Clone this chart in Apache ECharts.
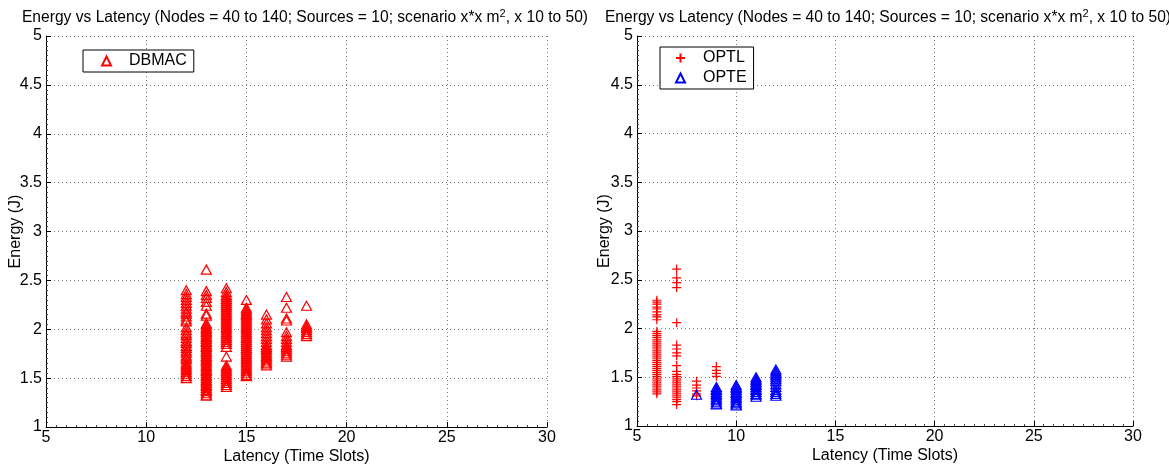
<!DOCTYPE html>
<html lang="en">
<head>
	<meta charset="UTF-8">
	<title>Energy vs Latency</title>
	<style>
		body { margin: 0; background: #fff; }
	</style>
</head>
<body>
	<div id="main" style="width: 1169px;height: 465px"></div>
	<script src="https://cdn.jsdelivr.net/npm/echarts@6/dist/echarts.min.js"></script>
	<script>
		// left plot: DBMAC, one y list per latency value
		var dbmacX = [12, 13, 14, 15, 16, 17, 18]
		var dbmacY = [
			[2.40, 2.36, 2.33, 2.30, 2.27, 2.24, 2.21, 2.18, 2.16, 2.13, 2.10, 2.08, 2.02, 1.99, 1.96, 1.94, 1.91, 1.88, 1.86, 1.83, 1.81, 1.78, 1.76, 1.73, 1.71, 1.69, 1.66, 1.64, 1.62, 1.60, 1.58, 1.56, 1.54, 1.52, 1.50],
			[2.61, 2.39, 2.35, 2.32, 2.28, 2.24, 2.16, 2.14, 2.06, 2.05, 2.03, 2.01, 2.00, 1.98, 1.97, 1.95, 1.93, 1.92, 1.90, 1.88, 1.87, 1.85, 1.83, 1.82, 1.80, 1.78, 1.77, 1.75, 1.73, 1.72, 1.70, 1.68, 1.67, 1.65, 1.63, 1.62, 1.60, 1.58, 1.57, 1.55, 1.53, 1.52, 1.50, 1.48, 1.47, 1.45, 1.43, 1.42, 1.40, 1.38, 1.37, 1.35, 1.33, 1.32],
			[2.42, 2.38, 2.35, 2.33, 2.31, 2.29, 2.27, 2.25, 2.23, 2.21, 2.19, 2.17, 2.15, 2.13, 2.11, 2.09, 2.07, 2.05, 2.03, 2.01, 1.99, 1.97, 1.95, 1.93, 1.91, 1.89, 1.87, 1.85, 1.82, 1.72, 1.63, 1.61, 1.59, 1.57, 1.55, 1.53, 1.51, 1.49, 1.47, 1.45, 1.43, 1.41],
			[2.30, 2.22, 2.20, 2.18, 2.16, 2.15, 2.13, 2.11, 2.09, 2.07, 2.05, 2.03, 2.01, 1.99, 1.97, 1.95, 1.93, 1.91, 1.89, 1.87, 1.85, 1.83, 1.81, 1.79, 1.77, 1.75, 1.73, 1.71, 1.69, 1.67, 1.65, 1.63, 1.61, 1.59, 1.57, 1.55, 1.53, 1.52],
			[2.15, 2.10, 2.06, 2.02, 1.99, 1.96, 1.93, 1.90, 1.87, 1.84, 1.82, 1.80, 1.79, 1.77, 1.75, 1.73, 1.72, 1.70, 1.68, 1.66, 1.65, 1.63],
			[2.33, 2.22, 2.11, 2.09, 1.97, 1.93, 1.90, 1.87, 1.84, 1.82, 1.80, 1.78, 1.76, 1.74, 1.72],
			[2.24, 2.05, 2.03, 2.01, 1.99, 1.97, 1.95, 1.93]
		]

		// right plot: OPTL and OPTE
		var optlX = [6, 7, 8, 9]
		var optlY = [
			[2.29, 2.27, 2.25, 2.22, 2.20, 2.17, 2.14, 2.12, 2.09, 1.97, 1.95, 1.93, 1.91, 1.89, 1.87, 1.85, 1.83, 1.81, 1.79, 1.77, 1.75, 1.73, 1.71, 1.69, 1.67, 1.65, 1.63, 1.61, 1.59, 1.57, 1.55, 1.53, 1.51, 1.49, 1.47, 1.45, 1.43, 1.41, 1.39, 1.37, 1.35, 1.33],
			[2.61, 2.52, 2.47, 2.42, 2.06, 1.83, 1.79, 1.75, 1.72, 1.62, 1.56, 1.53, 1.51, 1.49, 1.47, 1.45, 1.43, 1.41, 1.39, 1.37, 1.35, 1.33, 1.31, 1.29, 1.27, 1.25, 1.22],
			[1.46, 1.42, 1.39, 1.36, 1.33, 1.31],
			[1.61, 1.57, 1.54, 1.51]
		]
		var opteX = [8, 9, 10, 11, 12]
		var opteY = [
			[1.32],
			[1.40, 1.38, 1.37, 1.35, 1.33, 1.32, 1.30, 1.28, 1.27, 1.25, 1.23, 1.22],
			[1.42, 1.40, 1.39, 1.37, 1.35, 1.34, 1.32, 1.30, 1.29, 1.27, 1.25, 1.24, 1.22, 1.21],
			[1.50, 1.48, 1.47, 1.45, 1.43, 1.42, 1.40, 1.38, 1.37, 1.35, 1.33, 1.32, 1.30],
			[1.58, 1.56, 1.54, 1.52, 1.50, 1.48, 1.46, 1.43, 1.40, 1.37, 1.35, 1.33, 1.31]
		]

		var xTicks = [5, 10, 15, 20, 25, 30]
		var yTicks = [1, 1.5, 2, 2.5, 3, 3.5, 4, 4.5, 5]

		function pairs(xs, ys) {
			var out = []
			for (var i = 0; i < xs.length; i++) {
				for (var j = 0; j < ys[i].length; j++) out.push([xs[i], ys[i][j]])
			}
			return out
		}

		var font = '"Liberation Sans", Arial, sans-serif'
		var plus = 'path://M0,5L10,5M5,0L5,10'
		var titleText = 'Energy vs Latency (Nodes = 40 to 140; Sources = 10; scenario x*x m{sup|2}, x 10 to 50)'

		function xAxis(idx) {
			return {
				gridIndex: idx, type: 'value',
				min: xTicks[0], max: xTicks[xTicks.length - 1], interval: 5,
				name: 'Latency (Time Slots)', nameLocation: 'middle', nameGap: 22, nameMoveOverlap: false,
				nameTextStyle: { fontFamily: font, fontSize: 16, color: '#000' },
				axisLine: { lineStyle: { color: '#000', width: 1 } },
				axisTick: { inside: true, length: 5, lineStyle: { color: '#000' } },
				minorTick: { show: true, splitNumber: 10, length: 2, lineStyle: { color: '#444' } },
				axisLabel: { fontFamily: font, fontSize: 16, color: '#000', margin: 3 },
				splitLine: { show: true, lineStyle: { color: '#777', type: [1, 3], width: 1 } }
			}
		}
		function yAxis(idx, gap) {
			return {
				gridIndex: idx, type: 'value',
				min: yTicks[0], max: yTicks[yTicks.length - 1], interval: 0.5,
				name: 'Energy (J)', nameLocation: 'middle', nameGap: gap, nameMoveOverlap: false,
				nameTextStyle: { fontFamily: font, fontSize: 16, color: '#000' },
				axisLine: { show: true, lineStyle: { color: '#000', width: 1 } },
				axisTick: { show: true, inside: true, length: 5, lineStyle: { color: '#000' } },
				minorTick: { show: true, splitNumber: 10, length: 2, lineStyle: { color: '#444' } },
				axisLabel: { fontFamily: font, fontSize: 16, color: '#000', margin: 4 },
				splitLine: { show: true, lineStyle: { color: '#777', type: [1, 3], width: 1 } }
			}
		}
		function title(center) {
			return {
				text: titleText, left: center, top: 3, textAlign: 'center',
				textStyle: {
					fontFamily: font, fontSize: 15.6, fontWeight: 'normal', color: '#000',
					rich: { sup: { fontFamily: font, fontSize: 11, color: '#000', padding: [0, 0, 9, 0] } }
				}
			}
		}
		var legendBase = {
			backgroundColor: '#fff', borderColor: '#000', borderWidth: 1, borderRadius: 0,
			itemWidth: 9, itemHeight: 9,
			textStyle: { fontFamily: font, fontSize: 16, color: '#000', padding: [0, 0, 0, 13] }
		}

		var myChart = echarts.init(document.getElementById('main'))
		var option = {
			animation: false,
			backgroundColor: '#fff',
			title: [title(300), title(883)],
			legend: [
				Object.assign({}, legendBase, { data: ['DBMAC'], left: 83, top: 50, padding: [3, 7, 3, 18] }),
				Object.assign({}, legendBase, { data: ['OPTL', 'OPTE'], orient: 'vertical', left: 660, top: 47, itemGap: 4, padding: [3, 7, 3, 15] })
			],
			grid: [
				{ left: 46, right: 622, top: 36, bottom: 38, outerBoundsMode: 'none' },
				{ left: 637, right: 36, top: 36, bottom: 39, outerBoundsMode: 'none' }
			],
			xAxis: [xAxis(0), xAxis(1)],
			yAxis: [yAxis(0, 22), yAxis(1, 24)],
			series: [
				{
					name: 'DBMAC', type: 'scatter', xAxisIndex: 0, yAxisIndex: 0,
					symbol: 'triangle', symbolSize: [10, 9],
					itemStyle: { color: 'rgba(0,0,0,0)', borderColor: '#ff0000', borderWidth: 1.2, opacity: 1 },
					data: pairs(dbmacX, dbmacY)
				},
				{
					name: 'OPTL', type: 'scatter', xAxisIndex: 1, yAxisIndex: 1,
					symbol: plus, symbolSize: 9,
					itemStyle: { color: 'rgba(0,0,0,0)', borderColor: '#ff0000', borderWidth: 1.2, opacity: 1 },
					data: pairs(optlX, optlY)
				},
				{
					name: 'OPTE', type: 'scatter', xAxisIndex: 1, yAxisIndex: 1,
					symbol: 'triangle', symbolSize: [10, 9],
					itemStyle: { color: 'rgba(0,0,0,0)', borderColor: '#0000ff', borderWidth: 1.2, opacity: 1 },
					data: pairs(opteX, opteY)
				}
			]
		}
		myChart.setOption(option)
	</script>
</body>
</html>
